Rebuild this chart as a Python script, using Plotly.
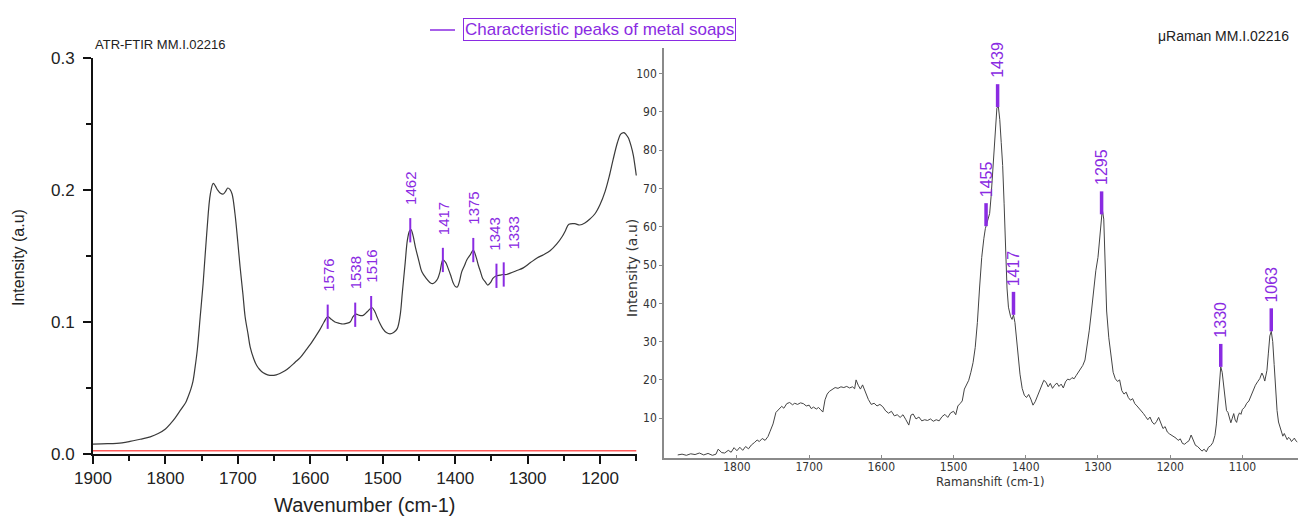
import numpy as np
import plotly.graph_objects as go

# ---------------- DATA ----------------
ftir_wn = [1900, 1880, 1860, 1849, 1835, 1821, 1810, 1800, 1793, 1787, 1782, 1777, 1772, 1769, 1765, 1762,
           1759, 1756, 1752, 1748, 1743, 1738, 1734, 1731, 1728, 1724, 1720, 1717, 1714, 1711, 1708, 1704,
           1700, 1697, 1693, 1690, 1686, 1683, 1678, 1674, 1670, 1665, 1659, 1653, 1647, 1642, 1635, 1628,
           1621, 1614, 1607, 1600, 1594, 1587, 1581, 1576, 1571, 1566, 1560, 1555, 1550, 1545, 1541, 1537,
           1532, 1527, 1521, 1515, 1511, 1508, 1504, 1500, 1495, 1490, 1485, 1480, 1476, 1473, 1469, 1466,
           1463, 1461, 1458, 1455, 1450, 1446, 1440, 1435, 1431, 1428, 1424, 1421, 1417, 1413, 1410, 1406,
           1403, 1400, 1397, 1394, 1391, 1387, 1384, 1379, 1375, 1371, 1368, 1365, 1362, 1358, 1355, 1351,
           1348, 1343, 1338, 1334, 1329, 1324, 1315, 1306, 1296, 1287, 1278, 1269, 1260, 1252, 1248, 1243,
           1235, 1228, 1221, 1214, 1207, 1200, 1193, 1187, 1182, 1176, 1172, 1170, 1167, 1164, 1161, 1157,
           1154, 1152, 1150]
ftir_abs = [0.0075, 0.0078, 0.0085, 0.0095, 0.0112, 0.013, 0.0155, 0.019, 0.023, 0.027, 0.031, 0.035, 0.039,
            0.043, 0.049, 0.055, 0.066, 0.079, 0.104, 0.129, 0.167, 0.197, 0.205, 0.203, 0.200, 0.1975, 0.197,
            0.199, 0.2015, 0.2005, 0.197, 0.182, 0.160, 0.142, 0.121, 0.104, 0.091, 0.081, 0.072, 0.067, 0.064,
            0.0615, 0.060, 0.0595, 0.060, 0.061, 0.063, 0.066, 0.0695, 0.073, 0.078, 0.083, 0.088, 0.094, 0.100,
            0.104, 0.102, 0.100, 0.099, 0.0985, 0.099, 0.100, 0.104, 0.106, 0.105, 0.105, 0.108, 0.111, 0.108,
            0.104, 0.099, 0.095, 0.092, 0.091, 0.092, 0.095, 0.105, 0.122, 0.145, 0.162, 0.169, 0.170, 0.165,
            0.157, 0.146, 0.138, 0.133, 0.130, 0.129, 0.130, 0.133, 0.138, 0.147, 0.145, 0.141, 0.135, 0.130,
            0.127, 0.1265, 0.131, 0.138, 0.143, 0.147, 0.151, 0.1545, 0.149, 0.143, 0.138, 0.133, 0.130, 0.128,
            0.130, 0.133, 0.135, 0.1355, 0.136, 0.136, 0.137, 0.139, 0.141, 0.145, 0.1485, 0.151, 0.154, 0.159,
            0.165, 0.169, 0.174, 0.1745, 0.1735, 0.175, 0.178, 0.182, 0.189, 0.199, 0.211, 0.223, 0.236, 0.242,
            0.243, 0.2435, 0.242, 0.2395, 0.233, 0.226, 0.219, 0.211]
ftir_baseline_wn = [1900, 1150]
ftir_baseline = [0.0025, 0.0025]
ftir_peaks = [1576, 1538, 1516, 1462, 1417, 1375, 1343, 1333]
ftir_peak_labels = ["1576", "1538", "1516", "1462", "1417", "1375", "1343", "1333"]

raman_shift = [1882, 1876, 1870, 1864, 1858, 1852, 1846, 1840, 1834, 1829, 1826, 1821, 1817, 1812, 1808, 1804,
               1800, 1796, 1792, 1788, 1784, 1780, 1776, 1772, 1769, 1765, 1761, 1757, 1754, 1750, 1746, 1742,
               1738, 1735, 1731, 1727, 1723, 1720, 1716, 1712, 1708, 1704, 1700, 1697, 1694, 1690, 1687, 1684,
               1681, 1678, 1675, 1672, 1668, 1664, 1660, 1656, 1652, 1648, 1644, 1640, 1637, 1635, 1632, 1629,
               1626, 1622, 1618, 1614, 1610, 1606, 1602, 1598, 1594, 1590, 1586, 1582, 1578, 1574, 1570, 1566,
               1562, 1559, 1556, 1552, 1548, 1544, 1540, 1536, 1532, 1528, 1524, 1520, 1516, 1512, 1508, 1504,
               1500, 1497, 1494, 1491, 1488, 1485, 1482, 1479, 1476, 1473, 1470, 1467, 1464, 1461, 1458, 1456,
               1453, 1450, 1448, 1446, 1444, 1442, 1440, 1438, 1436, 1434, 1432, 1430, 1428, 1426, 1424, 1421,
               1419, 1417, 1415, 1413, 1411, 1408, 1405, 1402, 1399, 1396, 1393, 1390, 1387, 1384, 1381, 1378,
               1375, 1372, 1369, 1366, 1363, 1360, 1357, 1354, 1351, 1348, 1345, 1342, 1339, 1336, 1333, 1330,
               1327, 1324, 1321, 1318, 1315, 1312, 1309, 1306, 1303, 1300, 1298, 1296, 1294, 1292, 1290, 1288,
               1285, 1282, 1279, 1276, 1273, 1270, 1267, 1264, 1261, 1258, 1255, 1252, 1249, 1246, 1243, 1240,
               1237, 1234, 1231, 1228, 1225, 1222, 1219, 1216, 1213, 1210, 1207, 1204, 1201, 1198, 1195, 1192,
               1189, 1186, 1183, 1180, 1177, 1174, 1171, 1168, 1165, 1162, 1159, 1156, 1153, 1150, 1147, 1144,
               1141, 1138, 1136, 1134, 1132, 1130, 1128, 1126, 1124, 1122, 1120, 1118, 1116, 1114, 1112, 1110,
               1108, 1106, 1104, 1102, 1100, 1097, 1094, 1091, 1088, 1085, 1082, 1079, 1076, 1073, 1071, 1069,
               1066, 1064, 1062, 1060, 1058, 1056, 1054, 1052, 1050, 1048, 1046, 1044, 1042, 1040, 1038, 1036,
               1034, 1032, 1030, 1028, 1026, 1024]
raman_int = [0.4, 0.6, 0.3, 0.7, 0.5, 0.9, 0.4, 0.8, 0.3, 0.6, 1.9, 1.0, 0.9, 1.6, 1.1, 2.3,
             1.5, 2.4, 1.6, 2.6, 2.0, 3.0, 3.6, 4.3, 3.9, 4.7, 4.2, 5.2, 6.6, 8.5, 11.5, 12.4,
             13.1, 12.6, 13.8, 14.1, 13.5, 13.9, 13.6, 14.0, 13.8, 13.2, 13.4, 12.5, 12.9, 12.4, 12.8, 12.2,
             11.6, 14.8, 16.3, 17.0, 17.4, 18.0, 17.8, 18.2, 18.0, 18.3, 17.9, 18.2, 17.7, 20.0, 18.6, 17.6,
             18.7, 16.8, 14.9, 13.6, 13.9, 13.2, 13.6, 13.0, 11.9, 11.3, 11.8, 10.6, 10.9, 10.2, 10.9, 9.6,
             8.2, 10.8, 11.1, 9.8, 10.3, 9.3, 9.6, 9.4, 9.8, 9.2, 9.6, 9.3, 10.4, 11.0, 10.2, 11.4,
             11.8, 10.9, 13.2, 13.8, 14.5, 17.6, 18.8, 19.9, 22.0, 24.5, 28.5, 35.0, 44.0, 52.0, 57.0, 59.5,
             61.5, 63.5, 68.0, 74.0, 81.0, 87.0, 91.0, 91.5, 88.0, 82.0, 76.0, 66.0, 52.0, 44.0, 39.0, 36.5,
             35.8, 37.0, 35.0, 30.5, 26.5, 21.5, 17.8, 16.0, 15.4, 16.2, 15.0, 13.4, 14.3, 15.6, 16.8, 18.4,
             19.9, 19.4, 18.2, 19.1, 17.8, 18.6, 19.2, 18.3, 18.9, 17.9, 19.5, 20.2, 20.0, 20.6, 20.3, 21.2,
             22.1, 23.0, 23.8, 25.2, 29.0, 33.0, 38.0, 44.0, 48.5, 52.0, 56.0, 62.0, 64.5, 62.0, 52.0, 38.0,
             31.0, 26.5, 22.0, 20.3, 19.6, 20.0, 17.2, 16.3, 16.8, 15.4, 14.7, 15.1, 13.8, 13.2, 12.6, 11.8,
             11.2, 10.4, 9.6, 10.3, 9.0, 8.4, 9.1, 10.2, 8.6, 7.3, 7.8, 6.4, 5.9, 5.6, 5.1, 4.8,
             4.2, 4.6, 3.4, 3.2, 3.7, 4.1, 5.6, 4.3, 2.9, 2.6, 2.1, 1.4, 1.9, 1.2, 2.4, 2.8,
             3.6, 5.5, 8.5, 14.0, 20.0, 23.4, 22.0, 18.0, 14.0, 12.0, 11.5, 10.2, 8.8, 10.0, 11.2, 9.5,
             8.9, 10.6, 11.4, 11.0, 12.3, 12.8, 13.9, 14.5, 15.8, 17.4, 18.6, 19.5, 20.3, 21.8, 21.0, 19.7,
             22.5, 27.0, 31.5, 32.7, 30.0, 24.0, 17.0, 12.0, 9.0, 7.5, 6.6, 5.3, 6.0, 5.1, 4.4, 5.0,
             4.6, 3.9, 4.3, 4.8, 4.1, 3.8]
raman_peaks = [1455, 1439, 1417, 1295, 1130, 1060]
raman_peak_labels = ["1455", "1439", "1417", "1295", "1330", "1063"]

ftir_yticks = [0.0, 0.1, 0.2, 0.3]
ftir_xticks = [1900, 1800, 1700, 1600, 1500, 1400, 1300, 1200]
raman_yticks = [10, 20, 30, 40, 50, 60, 70, 80, 90, 100]
raman_xticks = [1800, 1700, 1600, 1500, 1400, 1300, 1200, 1100]

# ---------------- STYLE ----------------
W, H = 1298, 517
PURPLE = "#8a2be2"
SANS = "Liberation Sans, Arial, sans-serif"
NARROW = "Liberation Sans Narrow, DejaVu Sans Condensed, sans-serif"
# horizontal nudges (px) for crowded peak labels, keyed by label text
FTIR_LABEL_XSHIFT = {"1343": -2, "1333": 10}


def px_x(p):
    return p / W


def px_y(p):
    return 1 - p / H


fig = go.Figure()

# FTIR spectrum
fig.add_trace(go.Scatter(x=ftir_wn, y=ftir_abs, mode="lines", line=dict(color="#3a3a3a", width=1.2),
                         xaxis="x", yaxis="y", showlegend=False, line_shape="spline"))
fig.add_trace(go.Scatter(x=ftir_baseline_wn, y=ftir_baseline, mode="lines",
                         line=dict(color="#ff5a5a", width=1.5), xaxis="x", yaxis="y", showlegend=False))

# FTIR peak markers
fw = np.array(ftir_wn[::-1], dtype=float)
fa = np.array(ftir_abs[::-1], dtype=float)
half = 0.0092
mx, my = [], []
for p in ftir_peaks:
    c = float(np.interp(p, fw, fa))
    mx += [p, p, None]
    my += [c - half, c + half, None]
fig.add_trace(go.Scatter(x=mx, y=my, mode="lines", line=dict(color=PURPLE, width=2),
                         xaxis="x", yaxis="y", showlegend=False))
for p, lab in zip(ftir_peaks, ftir_peak_labels):
    c = float(np.interp(p, fw, fa))
    fig.add_annotation(x=p, y=c + half, xref="x", yref="y", text=lab, showarrow=False, textangle=-90,
                       xanchor="center", yanchor="bottom", yshift=11, xshift=FTIR_LABEL_XSHIFT.get(lab, 0),
                       font=dict(family=SANS, size=15, color=PURPLE))

# Raman spectrum
fig.add_trace(go.Scatter(x=raman_shift, y=raman_int, mode="lines", line=dict(color="#444444", width=1),
                         xaxis="x2", yaxis="y2", showlegend=False))
rw = np.array(raman_shift[::-1], dtype=float)
ri = np.array(raman_int[::-1], dtype=float)
rlen = 6.0
rx, ry = [], []
for p in raman_peaks:
    c = float(np.interp(p, rw, ri))
    rx += [p, p, None]
    ry += [c, c + rlen, None]
fig.add_trace(go.Scatter(x=rx, y=ry, mode="lines", line=dict(color=PURPLE, width=3.5),
                         xaxis="x2", yaxis="y2", showlegend=False))
for p, lab in zip(raman_peaks, raman_peak_labels):
    c = float(np.interp(p, rw, ri))
    fig.add_annotation(x=p, y=c + rlen, xref="x2", yref="y2", text=lab, showarrow=False, textangle=-90,
                       xanchor="center", yanchor="bottom", yshift=4,
                       font=dict(family=SANS, size=16, color=PURPLE))

# Titles / texts
fig.add_annotation(x=px_x(93), y=px_y(44), xref="paper", yref="paper", text="ATR-FTIR MM.I.02216",
                   showarrow=False, xanchor="left", yanchor="middle",
                   font=dict(family=SANS, size=13, color="#222"))
fig.add_annotation(x=px_x(1291), y=px_y(36), xref="paper", yref="paper", text="μRaman MM.I.02216",
                   showarrow=False, xanchor="right", yanchor="middle",
                   font=dict(family=SANS, size=14, color="#222"))
fig.add_annotation(x=px_x(365), y=px_y(505), xref="paper", yref="paper", text="Wavenumber (cm-1)",
                   showarrow=False, xanchor="center", yanchor="middle",
                   font=dict(family=SANS, size=20, color="#222"))
fig.add_annotation(x=px_x(18), y=px_y(258), xref="paper", yref="paper", text="Intensity (a.u)",
                   showarrow=False, textangle=-90, xanchor="center", yanchor="middle",
                   font=dict(family=SANS, size=16, color="#222"))
fig.add_annotation(x=px_x(990), y=px_y(481), xref="paper", yref="paper", text="Ramanshift (cm-1)",
                   showarrow=False, xanchor="center", yanchor="middle",
                   font=dict(family=NARROW, size=13, color="#333"))
fig.add_annotation(x=px_x(632), y=px_y(268), xref="paper", yref="paper", text="Intensity (a.u)",
                   showarrow=False, textangle=-90, xanchor="center", yanchor="middle",
                   font=dict(family="DejaVu Sans, sans-serif", size=14, color="#333"))

# Legend-like box
fig.add_annotation(x=px_x(599), y=px_y(30), xref="paper", yref="paper",
                   text="Characteristic peaks of metal soaps", showarrow=False,
                   xanchor="center", yanchor="middle", bordercolor=PURPLE, borderwidth=1, borderpad=1,
                   font=dict(family=SANS, size=17, color=PURPLE), bgcolor="white")
fig.add_shape(type="line", xref="paper", yref="paper", x0=px_x(430), x1=px_x(455), y0=px_y(30), y1=px_y(30),
              line=dict(color=PURPLE, width=1.5))

fig.update_layout(
    width=W, height=H, margin=dict(l=0, r=0, t=0, b=0, pad=0, autoexpand=False),
    paper_bgcolor="white", plot_bgcolor="white",
    xaxis=dict(domain=[px_x(93), px_x(637)], range=[1900, 1149], showgrid=False, zeroline=False,
               showline=True, linecolor="#111", linewidth=2, ticks="outside", ticklen=8, tickwidth=2,
               tickcolor="#111", tickvals=ftir_xticks, automargin=False,
               minor=dict(dtick=50, ticks="outside", ticklen=5, tickwidth=2, tickcolor="#111"),
               tickfont=dict(family=SANS, size=17, color="#222"), anchor="y"),
    yaxis=dict(domain=[px_y(454), px_y(58)], range=[0, 0.3], showgrid=False, zeroline=False,
               showline=True, linecolor="#111", linewidth=2, ticks="outside", ticklen=8, tickwidth=2,
               tickcolor="#111", tickvals=ftir_yticks, tickformat=".1f", automargin=False,
               ticklabelstandoff=5,
               minor=dict(dtick=0.05, ticks="outside", ticklen=5, tickwidth=2, tickcolor="#111"),
               tickfont=dict(family=SANS, size=17, color="#222"), anchor="x"),
    xaxis2=dict(domain=[px_x(664), 1.0], range=[1901, 1023], showgrid=False, zeroline=False,
                showline=True, linecolor="#8a8a8a", linewidth=2, ticks="inside", ticklen=3, tickwidth=1,
                tickcolor="#8a8a8a", tickvals=raman_xticks, automargin=False, ticklabelstandoff=-3,
                tickfont=dict(family=NARROW, size=12, color="#333"), anchor="y2"),
    yaxis2=dict(domain=[px_y(458), px_y(48)], range=[-0.4, 106.7], showgrid=False, zeroline=False,
                showline=True, linecolor="#8a8a8a", linewidth=1.5, ticks="outside", ticklen=3, tickwidth=1,
                tickcolor="#8a8a8a", tickvals=raman_yticks, automargin=False,
                tickfont=dict(family=NARROW, size=12, color="#333"), anchor="x2"),
)

fig.write_html("out.html", post_script="document.body.style.margin='0px';",
               config={"displayModeBar": False})
